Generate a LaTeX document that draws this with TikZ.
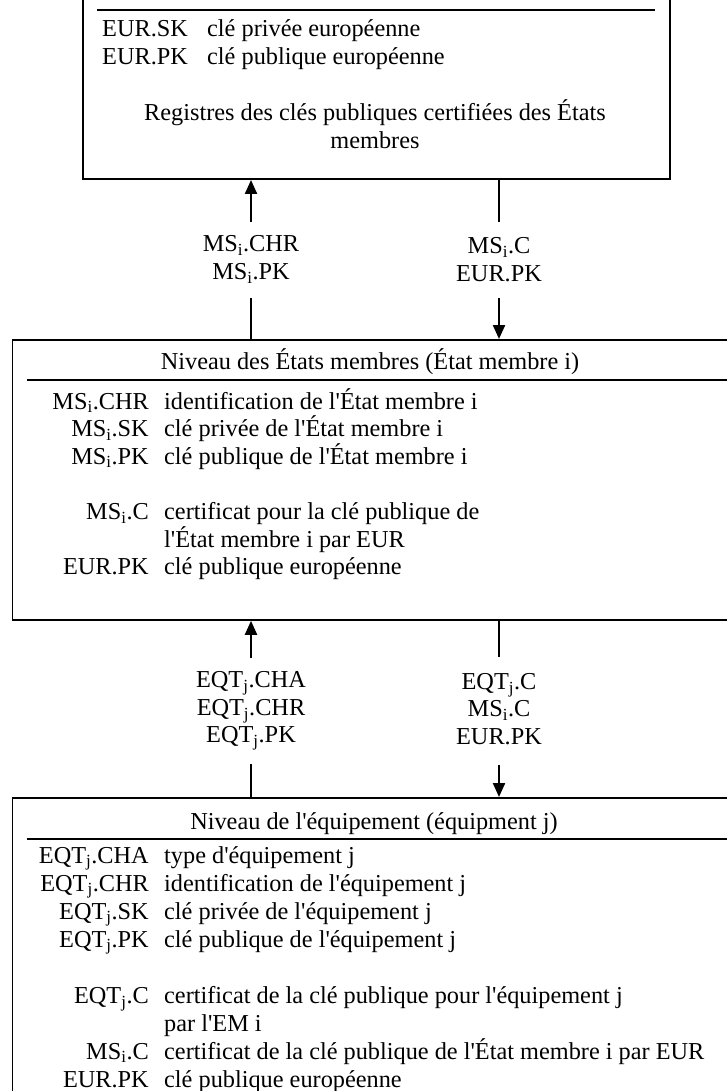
\documentclass[tikz,border=0pt]{standalone}
\usepackage{fontspec}
\setmainfont{Liberation Serif}[Ligatures=TeXOff]
\usetikzlibrary{arrows.meta}
\newcommand{\sbi}{\textsubscript{i}}
\newcommand{\sbj}{\textsubscript{j}}
\begin{document}
\begin{tikzpicture}[x=1pt,y=-1pt,
  every node/.style={font=\fontsize{24.3}{27.6}\selectfont, inner sep=0pt},
  boxline/.style={line width=1.8pt},
  rule/.style={line width=2.8pt},
  link/.style={line width=2.2pt},
  uparrow/.style={link, -{Triangle[width=12pt,length=14pt]}},
  key/.style={anchor=base east},
  desc/.style={anchor=base west},
  lbl/.style={align=center, anchor=center}]
\useasboundingbox (0,0) rectangle (727,1091);

% three levels: European, Member State, equipment
\node[draw, boxline, minimum width=587pt, minimum height=240pt, anchor=south west] (eur) at (82,180) {};
\node[draw, boxline, minimum width=720pt, minimum height=280pt, anchor=north west] (ms) at (11.5,339) {};
\node[draw, boxline, minimum width=720pt, minimum height=400pt, anchor=north west] (eqt) at (11.5,797) {};

% European level
\draw[rule] (97,10) -- (655,10);
\node[anchor=base west] (eursk) at (102,37) {EUR.SK};
\node[anchor=base west] (eurskd) at (207,37) {clé privée européenne};
\node[anchor=base west] (eurpk) at (102,64.6) {EUR.PK};
\node[anchor=base west] (eurpkd) at (207,64.6) {clé publique européenne};
\node[anchor=base] (reg1) at (375,121) {Registres des clés publiques certifiées des États};
\node[anchor=base] (reg2) at (375,148.6) {membres};

% Member State level
\node[anchor=base] (mstitle) at (370,369) {Niveau des États membres (État membre i)};
\draw[rule] (27,380) -- (730,380);
\node[key]  (k1) at (149,409) {MS\sbi.CHR};
\node[desc] (d1) at (164,409) {identification de l'État membre i};
\node[key]  (k2) at (149,436.6) {MS\sbi.SK};
\node[desc] (d2) at (164,436.6) {clé privée de l'État membre i};
\node[key]  (k3) at (149,464.2) {MS\sbi.PK};
\node[desc] (d3) at (164,464.2) {clé publique de l'État membre i};
\node[key]  (k4) at (149,519.4) {MS\sbi.C};
\node[desc] (d4) at (164,519.4) {certificat pour la clé publique de};
\node[desc] (d4b) at (164,547) {l'État membre i par EUR};
\node[key]  (k5) at (149,574.6) {EUR.PK};
\node[desc] (d5) at (164,574.6) {clé publique européenne};

% equipment level
\node[anchor=base] (eqtitle) at (374,829) {Niveau de l'équipement (équipment j)};
\draw[rule] (27,839) -- (730,839);
\node[key]  (e1) at (149,863) {EQT\sbj.CHA};
\node[desc] (f1) at (164,863) {type d'équipement j};
\node[key]  (e2) at (149,891) {EQT\sbj.CHR};
\node[desc] (f2) at (164,891) {identification de l'équipement j};
\node[key]  (e3) at (149,919) {EQT\sbj.SK};
\node[desc] (f3) at (164,919) {clé privée de l'équipement j};
\node[key]  (e4) at (149,947) {EQT\sbj.PK};
\node[desc] (f4) at (164,947) {clé publique de l'équipement j};
\node[key]  (e5) at (149,1003.5) {EQT\sbj.C};
\node[desc] (f5) at (164,1003.5) {certificat de la clé publique pour l'équipement j};
\node[desc] (f5b) at (164,1031.3) {par l'EM i};
\node[key]  (e6) at (149,1059.2) {MS\sbi.C};
\node[desc] (f6) at (164,1059.2) {certificat de la clé publique de l'État membre i par EUR};
\node[key]  (e7) at (149,1087.2) {EUR.PK};
\node[desc] (f7) at (164,1087.2) {clé publique européenne};

% exchanges between European and Member State levels
\node[lbl] (up1) at (251,259.5) {MS\sbi.CHR\\MS\sbi.PK};
\node[lbl] (dn1) at (499,259.5) {MS\sbi.C\\EUR.PK};
\coordinate (up1a) at (251,222);
\coordinate (up1b) at (251,298);
\coordinate (dn1a) at (499,222);
\coordinate (dn1b) at (499,298);
\draw[uparrow] (up1a) -- (up1a |- eur.south);
\draw[link] (up1b) -- (up1b |- ms.north);
\draw[link] (dn1a |- eur.south) -- (dn1a);
\draw[uparrow] (dn1b) -- (dn1b |- ms.north);

% exchanges between Member State and equipment levels
\node[lbl] (up2) at (251,711) {EQT\sbj.CHA\\EQT\sbj.CHR\\EQT\sbj.PK};
\node[lbl] (dn2) at (499,709) {EQT\sbj.C\\MS\sbi.C\\EUR.PK};
\coordinate (up2a) at (251,658);
\coordinate (up2b) at (251,764);
\coordinate (dn2a) at (499,657);
\coordinate (dn2b) at (499,765);
\draw[uparrow] (up2a) -- (up2a |- ms.south);
\draw[link] (up2b) -- (up2b |- eqt.north);
\draw[link] (dn2a |- ms.south) -- (dn2a);
\draw[uparrow] (dn2b) -- (dn2b |- eqt.north);
\end{tikzpicture}
\end{document}
